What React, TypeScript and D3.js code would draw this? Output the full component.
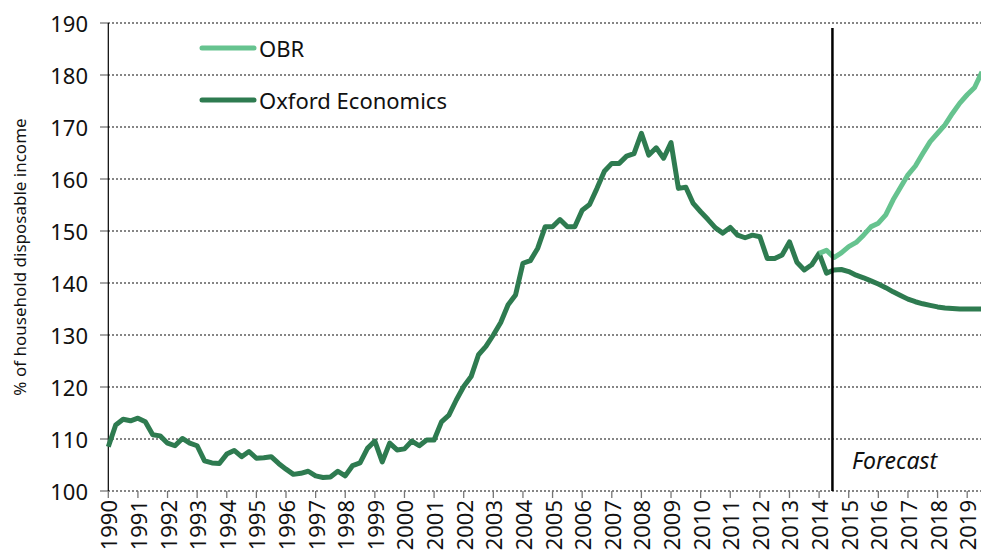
import React from 'react';
import * as d3 from 'd3';

// quarterly, 1990Q1 .. 2019Q3
const oxford = [
  108.5, 112.7, 113.8, 113.5, 114.0, 113.3, 110.8, 110.6, 109.2, 108.7,
  110.1, 109.2, 108.7, 105.8, 105.4, 105.3, 107.1, 107.8, 106.6, 107.6,
  106.3, 106.4, 106.6, 105.3, 104.2, 103.2, 103.4, 103.8, 102.9, 102.6,
  102.7, 103.8, 102.9, 104.9, 105.4, 108.2, 109.6, 105.6, 109.2, 107.9,
  108.1, 109.6, 108.7, 109.8, 109.8, 113.3, 114.6, 117.5, 120.1, 122.0,
  126.2, 127.8, 130.0, 132.4, 135.8, 137.7, 143.8, 144.3, 146.7, 150.8,
  150.8, 152.2, 150.8, 150.8, 154.0, 155.1, 158.2, 161.5, 163.0, 163.0,
  164.4, 164.9, 168.8, 164.6, 166.0, 164.0, 167.0, 158.2, 158.4, 155.3,
  153.7, 152.2, 150.6, 149.6, 150.7, 149.2, 148.7, 149.2, 148.9, 144.7,
  144.7, 145.4, 147.9, 144.0, 142.5, 143.5, 145.7, 141.9, 142.5, 142.6,
  142.2, 141.5, 141.0, 140.4, 139.8, 139.1, 138.3, 137.6, 136.9, 136.4,
  136.0, 135.7, 135.4, 135.2, 135.1, 135.0, 135.0, 135.0, 135.0,
];

// OBR forecast starts at 2014Q1 (index 96)
const obrStart = 96;
const obr = [
  145.7, 146.3, 144.9, 145.8, 147.0, 147.8, 149.2, 150.8, 151.5, 153.1,
  156.0, 158.4, 160.8, 162.5, 164.9, 167.2, 168.8, 170.4, 172.6, 174.6,
  176.2, 177.6, 180.6,
];

const yTicks = [100, 110, 120, 130, 140, 150, 160, 170, 180, 190];
const years = d3.range(1990, 2020);
const forecastAt = 2014.45;

const seriesNames = ['OBR', 'Oxford Economics'];
const seriesColors = ['#66c38f', '#2e7b50'];

const W = 981;
const H = 554;
const font = '"Noto Sans", "Open Sans", sans-serif';

export default function App() {
  const x = d3.scaleLinear().domain([1990, 2019.5]).range([108.3, 982]);
  const y = d3.scaleLinear().domain([100, 190]).range([491, 23]);

  const line = d3
    .line<[number, number]>()
    .x((d) => x(d[0]))
    .y((d) => y(d[1]));

  const oxPts: [number, number][] = oxford.map((v, i) => [1990 + i / 4, v]);
  const obrPts: [number, number][] = obr.map((v, i) => [1990 + (obrStart + i) / 4, v]);

  return (
    <div style={{ position: 'absolute', left: 0, top: 0 }}>
      <svg width={W} height={H} style={{ display: 'block', fontFamily: font }}>
        <rect width={W} height={H} fill="#fff" />

        {/* grid */}
        {yTicks.map((t) => (
          <g key={t}>
            <line x1={108} x2={W} y1={y(t)} y2={y(t)} stroke="#5e5e5e" strokeWidth={1.3} strokeDasharray="2,2" />
            <line x1={100} x2={108} y1={y(t)} y2={y(t)} stroke="#777" strokeWidth={1.3} />
            <text x={88} y={y(t)} textAnchor="end" dominantBaseline="central" fontSize={22} fill="#111">
              {t}
            </text>
          </g>
        ))}

        {/* y axis */}
        <line x1={108.3} x2={108.3} y1={y(190)} y2={y(100)} stroke="#000" strokeWidth={1.2} />

        {/* x ticks + labels */}
        {years.map((yr) => (
          <g key={yr}>
            <line x1={x(yr)} x2={x(yr)} y1={491} y2={498} stroke="#777" strokeWidth={1.3} />
            <text
              transform={`translate(${x(yr)},500) rotate(-90)`}
              textAnchor="end"
              dominantBaseline="central"
              fontSize={22}
              fill="#111"
            >
              {yr}
            </text>
          </g>
        ))}

        <text
          transform={`translate(19,257) rotate(-90)`}
          textAnchor="middle"
          dominantBaseline="central"
          fontSize={17}
          fill="#111"
        >
          % of household disposable income
        </text>

        {/* series */}
        <path d={line(oxPts) || ''} fill="none" stroke={seriesColors[1]} strokeWidth={5} strokeLinejoin="round" />
        <path d={line(obrPts) || ''} fill="none" stroke={seriesColors[0]} strokeWidth={5} strokeLinejoin="round" />

        {/* forecast marker */}
        <line x1={x(forecastAt)} x2={x(forecastAt)} y1={28} y2={491} stroke="#000" strokeWidth={2.5} />
        <text x={852} y={469} fontSize={23} fontStyle="italic" fill="#111">
          Forecast
        </text>

        {/* legend */}
        {seriesNames.map((n, i) => (
          <g key={n} transform={`translate(0,${48 + i * 52})`}>
            <line x1={202} x2={254} y1={0} y2={0} stroke={seriesColors[i]} strokeWidth={5} strokeLinecap="round" />
            <text x={259} y={0} dominantBaseline="central" fontSize={22} fill="#111">
              {n}
            </text>
          </g>
        ))}
      </svg>
    </div>
  );
}
